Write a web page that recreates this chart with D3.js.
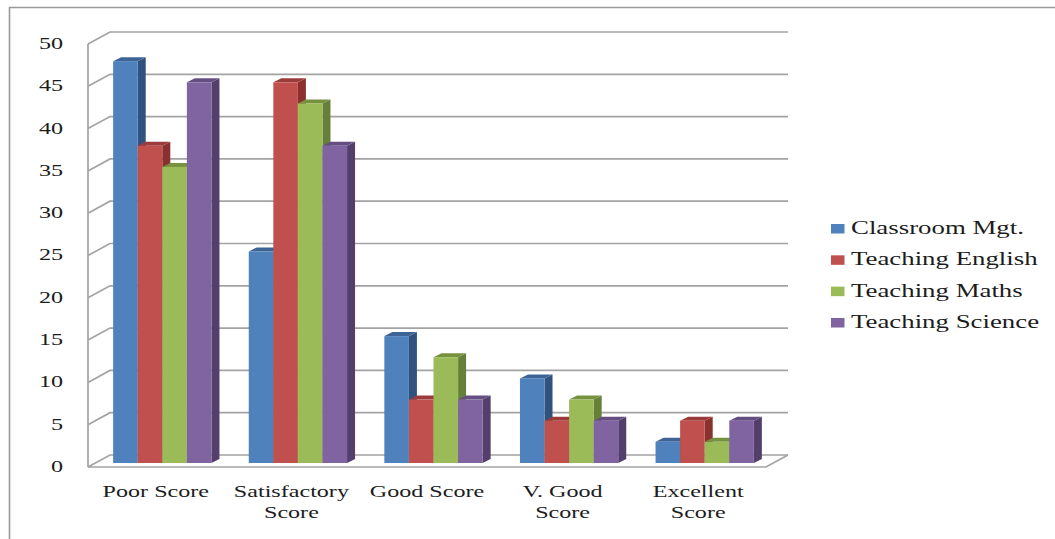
<!DOCTYPE html>
<html>
<head>
<meta charset="utf-8">
<script src="https://cdn.jsdelivr.net/npm/d3@7/dist/d3.min.js"></script>
<style>
  html, body { margin: 0; padding: 0; background: #fff; }
  svg { display: block; }
  text { font-family: "Liberation Serif", serif; fill: #1c1c1c; }
</style>
</head>
<body>
<svg id="chart" width="1055" height="539"></svg>
<script>
// Scores by category for each teaching competency
const categories = ["Poor Score", "Satisfactory Score", "Good Score", "V. Good Score", "Excellent Score"];
const categoryLines = [["Poor Score"], ["Satisfactory", "Score"], ["Good Score"], ["V. Good", "Score"], ["Excellent", "Score"]];
const seriesNames = ["Classroom Mgt.", "Teaching English", "Teaching Maths", "Teaching Science"];
const classroomMgt = [47.5, 25, 15, 10, 2.5];
const teachingEnglish = [37.5, 45, 7.5, 5, 5];
const teachingMaths = [35, 42.5, 12.5, 7.5, 2.5];
const teachingScience = [45, 37.5, 7.5, 5, 5];
const seriesValues = [classroomMgt, teachingEnglish, teachingMaths, teachingScience];
const tickValues = [0, 5, 10, 15, 20, 25, 30, 35, 40, 45, 50];

const frontColors = ["#4f81bd", "#c0504d", "#9bbb59", "#8064a2"];
const sideColors = ["#30527c", "#8a302e", "#66803a", "#523f6c"];
const topColors = ["#3d6494", "#9c3c3a", "#76923f", "#644e82"];
const gridColor = "#a3a3a3";

const svg = d3.select("#chart");

// Horizontal type is drawn wide, so each label is stretched after measuring it
function stretch(sel, factor) {
  sel.each(function () {
    const len = this.getComputedTextLength();
    d3.select(this).attr("textLength", len * factor).attr("lengthAdjust", "spacingAndGlyphs");
  });
}

// Outer frame: top and left edges only
svg.append("path")
  .attr("d", "M9.5,539V7.5H1055")
  .attr("fill", "none").attr("stroke", "#9a9a9a").attr("stroke-width", 1.6);

// Scales: y sits on the bars' front plane; the axis and back wall are offset from it
const y = d3.scaleLinear().domain([0, 50]).range([463, 40]);
const x0 = d3.scaleBand().domain(categories).range([88, 766]);
const barBand = d3.scaleBand().domain(categories).range([94.5, 772.5]).paddingInner(0.275).paddingOuter(0.1375);
const x1 = d3.scaleBand().domain(seriesNames).range([0, barBand.bandwidth()]);

const wallDx = 22, wallFront = 4, wallBack = -8;
const barDx = 8, barDy = -4;

// Back wall gridlines with their diagonal run to the axis
const grid = svg.append("g").attr("fill", "none").attr("stroke", gridColor).attr("stroke-width", 1.7);
grid.selectAll("path.grid").data(tickValues).join("path")
  .attr("class", "grid")
  .attr("d", d => {
    const yv = y(d);
    return `M88,${yv + wallFront}L${88 + wallDx},${yv + wallBack}H${766 + wallDx}`;
  });

// Floor outline and vertical axis line
grid.append("path").attr("d", `M88,${y(0) + wallFront}H766L${766 + wallDx},${y(0) + wallBack}`);
grid.append("path").attr("d", `M88,${y(50) + wallFront}V${y(0) + wallFront}`);

// Extruded bars: side and top faces first, front face last
categories.forEach((cat, ci) => {
  const g = svg.append("g").attr("class", "cluster");
  seriesNames.forEach((name, si) => {
    const v = seriesValues[si][ci];
    const left = barBand(cat) + x1(name);
    const right = left + x1.bandwidth();
    const top = y(v), base = y(0);
    g.append("path").attr("fill", sideColors[si])
      .attr("d", `M${right},${top}L${right + barDx},${top + barDy}V${base + barDy}L${right},${base}Z`);
    g.append("path").attr("fill", topColors[si])
      .attr("d", `M${left},${top}L${left + barDx},${top + barDy}H${right + barDx}L${right},${top}Z`);
    g.append("rect").attr("fill", frontColors[si])
      .attr("x", left).attr("y", top).attr("width", right - left).attr("height", base - top);
  });
});

// Value axis labels
const yAxis = svg.append("g")
  .attr("transform", "translate(63,3)")
  .call(d3.axisLeft(y).tickValues(tickValues).tickSize(0).tickPadding(0));
yAxis.select(".domain").remove();
yAxis.selectAll("text").attr("font-size", 17).attr("font-family", "Liberation Serif").attr("fill", "#1c1c1c");
stretch(yAxis.selectAll("text"), 1.42);

// Category axis labels, one or two lines each
const xAxis = svg.append("g")
  .attr("transform", "translate(0,491)")
  .call(d3.axisBottom(x0).tickSize(0).tickFormat(""));
xAxis.select(".domain").remove();
xAxis.selectAll(".tick").select("text").remove();
xAxis.selectAll(".tick").each(function (d) {
  const lines = categoryLines[categories.indexOf(d)];
  d3.select(this).selectAll("text").data(lines).join("text")
    .attr("text-anchor", "middle")
    .attr("font-size", 16.5)
    .attr("y", (l, i) => i * 21 + 5.5)
    .text(l => l);
});
stretch(xAxis.selectAll("text"), 1.46);

// Legend
const legendY = d3.scalePoint().domain(seriesNames).range([228.5, 322.5]);
const legend = svg.append("g").selectAll("g").data(seriesNames).join("g")
  .attr("transform", d => `translate(831,${legendY(d)})`);
legend.append("rect")
  .attr("x", 0).attr("y", -4.5).attr("width", 13.5).attr("height", 9.5)
  .attr("fill", (d, i) => frontColors[i]);
const legendText = legend.append("text")
  .attr("x", 20).attr("y", 5.5).attr("font-size", 18.5)
  .text(d => d);
stretch(legendText, 1.45);
</script>
</body>
</html>
